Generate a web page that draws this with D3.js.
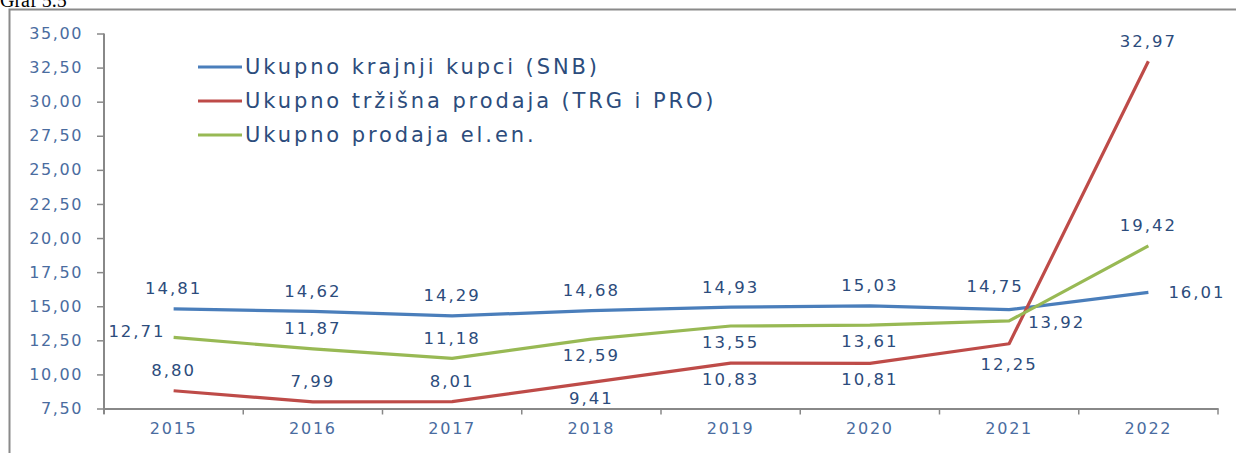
<!doctype html>
<html lang="en">
<head>
<meta charset="utf-8">
<style>
  body, html { margin:0; padding:0; background:#fff; overflow:hidden; }
  svg { display:block; }
  text { font-family: "DejaVu Sans", sans-serif; }
</style>
</head>
<body>
<div id="chart"></div>
<script src="https://d3js.org/d3.v7.min.js"></script>
<script>
const years = ["2015", "2016", "2017", "2018", "2019", "2020", "2021", "2022"];
const snb = [14.81, 14.62, 14.29, 14.68, 14.93, 15.03, 14.75, 16.01];
const trg = [8.80, 7.99, 8.01, 9.41, 10.83, 10.81, 12.25, 32.97];
const total = [12.71, 11.87, 11.18, 12.59, 13.55, 13.61, 13.92, 19.42];
const yTicks = [7.5, 10, 12.5, 15, 17.5, 20, 22.5, 25, 27.5, 30, 32.5, 35];
const seriesNames = ["Ukupno krajnji kupci (SNB)", "Ukupno tržišna prodaja (TRG i PRO)", "Ukupno prodaja el.en."];
// where each data label sits relative to its point
const snbPos = ["above", "above", "above", "above", "above", "above", "aboveLeft", "right"];
const trgPos = ["above", "above", "above", "below", "below", "below", "belowFar", "above"];
const totalPos = ["left", "above", "above", "below", "below", "below", "rightSide", "above"];

const W = 1236, H = 453;
const fmt = v => d3.format(".2f")(v).replace(".", ",");

const svg = d3.select("#chart").append("svg").attr("width", W).attr("height", H);

// frame + heading (cut by the top edge, as in the source page)
svg.append("text").attr("x", 0).attr("y", 7)
  .style("font-family", "'Liberation Serif', serif").style("font-size", "20px").attr("fill", "#000")
  .text("Graf 5.5");
svg.append("path").attr("d", `M9.5,${H} V9.5 H${W}`).attr("fill", "none")
  .attr("stroke", "#8a8a8a").attr("stroke-width", 2);

const x = d3.scaleBand().domain(years).range([104, 1218]);
const y = d3.scaleLinear().domain([7.5, 35]).range([408.5, 33.5]);

const labelColor = "#2c4c7c";
const tickColor = "#4a6c9f";

// y axis
const yAxis = svg.append("g").attr("transform", "translate(104,0)")
  .call(d3.axisLeft(y).tickValues(yTicks).tickSize(7).tickPadding(14).tickFormat(fmt));
yAxis.select(".domain").attr("stroke", "#888").attr("stroke-width", 2).attr("d", "M0,33.5V414");
yAxis.selectAll(".tick line").attr("stroke", "#888").attr("stroke-width", 1.5);
yAxis.selectAll(".tick text").attr("fill", tickColor).style("font-size", "16px")
  .style("letter-spacing", "1.6px").style("font-family", "'DejaVu Sans', sans-serif");

// x axis with ticks on band boundaries
const xAxis = svg.append("g").attr("transform", "translate(0,408.5)")
  .call(d3.axisBottom(x).tickSize(0).tickPadding(14));
xAxis.select(".domain").attr("stroke", "#888").attr("stroke-width", 2);
xAxis.selectAll(".tick text").attr("fill", tickColor).style("font-size", "16px")
  .style("letter-spacing", "1.8px").style("font-family", "'DejaVu Sans', sans-serif");
xAxis.selectAll(".bound").data(years.concat(["end"])).enter().append("line")
  .attr("class", "bound")
  .attr("x1", (d, i) => x.range()[0] + i * x.step())
  .attr("x2", (d, i) => x.range()[0] + i * x.step())
  .attr("y1", 0).attr("y2", 6).attr("stroke", "#888").attr("stroke-width", 1.5);

const series = [
  { name: seriesNames[0], values: snb, pos: snbPos, color: "#4a7ebb" },
  { name: seriesNames[1], values: trg, pos: trgPos, color: "#be4b48" },
  { name: seriesNames[2], values: total, pos: totalPos, color: "#98b954" }
];

const cx = d => x(d) + x.bandwidth() / 2;
const line = d3.line().x((d, i) => cx(years[i])).y(d => y(d));

svg.selectAll(".series").data(series).enter().append("path")
  .attr("class", "series")
  .attr("d", s => line(s.values))
  .attr("fill", "none").attr("stroke", s => s.color).attr("stroke-width", 3.2)
  .attr("stroke-linejoin", "round");

const offsets = {
  above: [0, -20, "middle"],
  aboveLeft: [-14, -23, "middle"],
  below: [0, 16, "middle"],
  belowFar: [0, 21, "middle"],
  left: [-8, -6, "end"],
  right: [20, 0, "start"],
  rightSide: [19, 2, "start"]
};

series.forEach(s => {
  svg.append("g").selectAll("text").data(s.values).enter().append("text")
    .attr("x", (d, i) => cx(years[i]) + offsets[s.pos[i]][0])
    .attr("y", (d, i) => y(d) + offsets[s.pos[i]][1])
    .attr("text-anchor", (d, i) => offsets[s.pos[i]][2])
    .attr("dominant-baseline", "central")
    .attr("fill", labelColor).style("font-size", "16.5px").style("letter-spacing", "2px")
    .text(d => fmt(d));
});

// legend
const leg = svg.append("g").selectAll("g").data(series).enter().append("g")
  .attr("transform", (d, i) => `translate(198,${67 + i * 34})`);
leg.append("line").attr("x1", 0).attr("x2", 44).attr("stroke", d => d.color).attr("stroke-width", 3.2);
leg.append("text").attr("x", 47).attr("dominant-baseline", "central")
  .attr("fill", labelColor).style("font-size", "21px").style("letter-spacing", "2.9px")
  .text(d => d.name);
</script>
</body>
</html>
